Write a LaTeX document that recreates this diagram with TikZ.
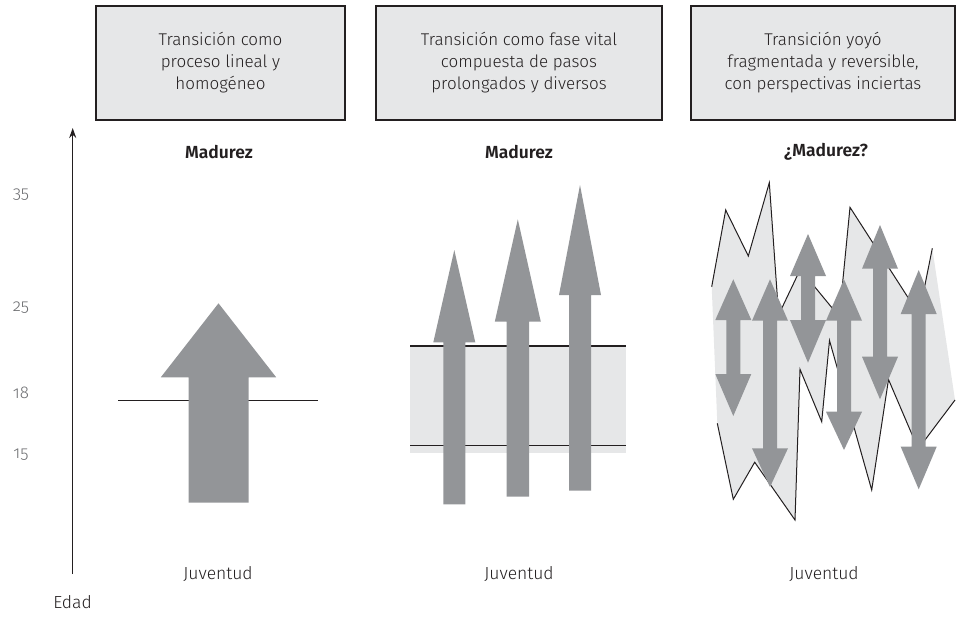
\documentclass[tikz,border=0pt]{standalone}
\usepackage{fontspec}
\setmainfont{Fira Sans Light}[BoldFont={Fira Sans SemiBold}, Numbers=OldStyle]
\usetikzlibrary{arrows.meta}
\definecolor{boxgray}{HTML}{E6E7E8}
\definecolor{arrgray}{HTML}{939598}
\definecolor{numgray}{HTML}{6D6E71}
\definecolor{ink}{HTML}{231F20}

% x, tip, base, bottom, halfhead, halfshaft
\newcommand{\upblock}[6]{%
 \fill[arrgray] ({#1-#6},#4) -- ({#1-#6},#3) -- ({#1-#5},#3) -- (#1,#2) -- ({#1+#5},#3) -- ({#1+#6},#3) -- ({#1+#6},#4) -- cycle;}
% x, top, topbase, botbase, bottom, halfhead, halfshaft
\newcommand{\dblblock}[7]{%
 \fill[arrgray] (#1,#2) -- ({#1+#6},#3) -- ({#1+#7},#3) -- ({#1+#7},#4) -- ({#1+#6},#4) -- (#1,#5) -- ({#1-#6},#4) -- ({#1-#7},#4) -- ({#1-#7},#3) -- ({#1-#6},#3) -- cycle;}

\begin{document}
\begin{tikzpicture}[x=1pt,y=-1pt,
  hbox/.style={draw=ink, line width=1.8pt, fill=boxgray, align=center, text=ink,
    font=\fontsize{17}{22}\selectfont, inner sep=0pt, minimum height=114pt},
  lbl/.style={text=ink, font=\fontsize{17.5}{20}\selectfont, inner sep=0pt},
  num/.style={text=numgray, font=\fontsize{17}{20}\selectfont, inner sep=0pt},
  lvl/.style={draw=ink, line width=1.2pt},
  axisline/.style={draw=ink, line width=1.3pt, -{Stealth[length=10pt,width=7pt]}}
]
\useasboundingbox (0,0) rectangle (964,619);

% header boxes
\node[hbox, minimum width=249pt] (h1) at (220.5,63) {Transición como\\proceso lineal y\\homogéneo};
\node[hbox, minimum width=286pt] (h2) at (519,63) {Transición como fase vital\\compuesta de pasos\\prolongados y diversos};
\node[hbox, minimum width=264pt] (h3) at (823,63) {Transición yoyó\\fragmentada y reversible,\\con perspectivas inciertas};

% axis
\coordinate (ax0) at (72.7,574);
\coordinate (ax1) at (72.7,128);
\draw[axisline] (ax0) -- (ax1);
\node[lbl] (edad) at (72.5,602) {Edad};
\node[num] (n35) at (21,195) {35};
\node[num] (n25) at (21,308) {25};
\node[num] (n18) at (21,393) {18};
\node[num] (n15) at (21,455) {15};

% top / bottom labels
\node[lbl] (m1) at (219,152) {\bfseries Madurez};
\node[lbl] (m2) at (519,152) {\bfseries Madurez};
\node[lbl] (m3) at (826,152) {\bfseries ¿Madurez?};
\node[lbl] (j1) at (218,574) {Juventud};
\node[lbl] (j2) at (519,574) {Juventud};
\node[lbl] (j3) at (824,574) {Juventud};

% panel 1
\coordinate (p1a) at (118.3,400.3);
\coordinate (p1b) at (318.3,400.3);
\draw[lvl] (p1a) -- (p1b);
\upblock{218.5}{303.3}{377.3}{502.7}{57.7}{30}

% panel 2
\fill[boxgray] (410,346) rectangle (626,453.3);
\coordinate (p2a) at (410,346);
\coordinate (p2b) at (626,346);
\coordinate (p2c) at (410,445.3);
\coordinate (p2d) at (626,445.3);
\draw[lvl] (p2a) -- (p2b);
\draw[lvl] (p2c) -- (p2d);
\upblock{454.3}{250}{342.3}{504.3}{21}{11}
\upblock{517.8}{219.3}{321.7}{496.7}{23}{11.3}
\upblock{580}{185}{295}{490.7}{21}{11}

% panel 3
\fill[boxgray] (711.7,286.7) -- (725.7,210) -- (748.3,256) -- (769.3,182.7) -- (778.6,314.9)
  -- (800.3,269.3) -- (839.3,316.7) -- (850,207.3) -- (919,314.6) -- (932.3,248.3)
  -- (955,400) -- (918.2,449) -- (888.5,379.5) -- (871.7,490) -- (829.5,340.5)
  -- (821.7,421.7) -- (800,369.3) -- (795,520) -- (754.7,462.2) -- (733.3,499.3)
  -- (717.3,423.3) -- cycle;
\draw[ink, line width=1pt, line join=miter] (711.7,286.7) -- (725.7,210) -- (748.3,256) -- (769.3,182.7) -- (778.6,314.9)
  -- (800.3,269.3) -- (839.3,316.7) -- (850,207.3) -- (919,314.6) -- (932.3,248.3);
\draw[ink, line width=1pt, line join=miter] (955,400) -- (918.2,449) -- (888.5,379.5) -- (871.7,490) -- (829.5,340.5)
  -- (821.7,421.7) -- (800,369.3) -- (795,520) -- (754.7,462.2) -- (733.3,499.3)
  -- (717.3,423.3);
\dblblock{733.3}{279.3}{320}{374}{416}{18}{7}
\dblblock{770}{279.3}{320.7}{448.3}{487}{18}{7}
\dblblock{808}{234}{276}{320}{362.7}{18}{7}
\dblblock{844}{279.3}{320.7}{411.7}{450}{18}{7}
\dblblock{880}{225}{268.7}{356.7}{399.3}{18}{7}
\dblblock{918.7}{270}{314}{446.7}{489.3}{18}{7}
\end{tikzpicture}
\end{document}
